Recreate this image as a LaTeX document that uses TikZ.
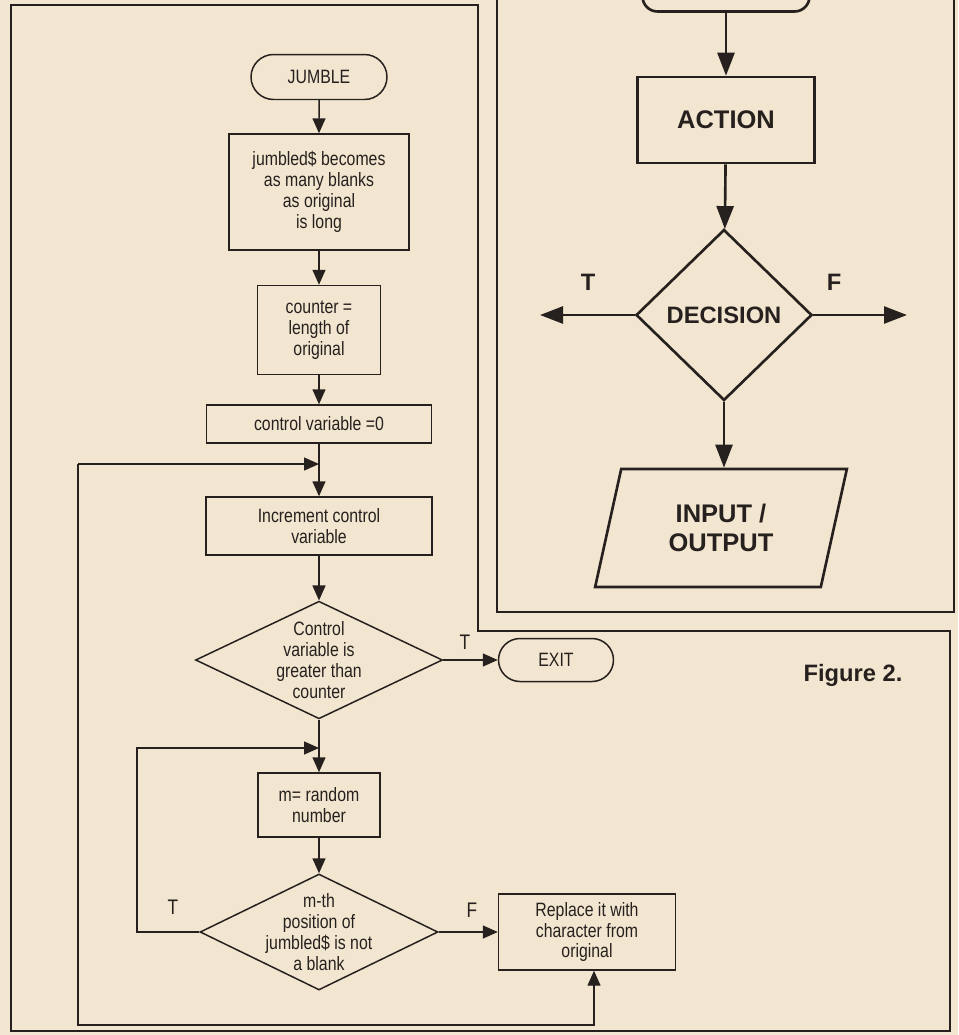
\documentclass[tikz,border=0pt]{standalone}
\usepackage{fontspec}
\setmainfont{Liberation Sans}
\newfontfamily\narrowfont{Liberation Sans}[FakeStretch=0.82]
\usetikzlibrary{shapes.geometric,shapes.misc,arrows.meta}
\definecolor{paper}{RGB}{242,230,208}
\definecolor{ink}{RGB}{38,32,30}
\begin{document}
\begin{tikzpicture}[
            x=0.02cm, y=-0.02cm,
            every node/.style = {text=ink, align=center, font=\narrowfont\fontsize{11}{11.9}\selectfont},
            proc/.style = {shape=rectangle, draw=ink, line width=0.85pt, inner sep=0pt},
            term/.style = {shape=rounded rectangle, draw=ink, line width=0.85pt, inner sep=0pt},
            dec/.style = {shape=diamond, draw=ink, line width=0.85pt, inner sep=0pt, aspect=2.1},
            bigproc/.style = {shape=rectangle, draw=ink, line width=1.5pt, font=\fontsize{14.5}{16}\selectfont\bfseries},
            bigdec/.style = {shape=diamond, draw=ink, line width=1.5pt, inner sep=0pt, font=\fontsize{13.5}{16}\selectfont\bfseries},
            io/.style = {shape=trapezium, trapezium left angle=74, trapezium right angle=106, trapezium stretches=true, draw=ink, line width=1.5pt, inner sep=0pt, font=\fontsize{14.5}{16.5}\selectfont\bfseries},
            lbl/.style = {font=\narrowfont\fontsize{12}{13}\selectfont},
            biglbl/.style = {font=\fontsize{13.5}{16}\selectfont\bfseries},
            arr/.style = {draw=ink, line width=0.85pt, -{Triangle[length=3mm,width=2.6mm]}},
            bigarr/.style = {draw=ink, line width=1.5pt, -{Triangle[length=4.6mm,width=3.4mm]}},
            frame/.style = {draw=ink, line width=0.9pt}
          ]
          \useasboundingbox (0,0) rectangle (958,1035);
          \clip (0,0) rectangle (958,1035);
          \fill[paper] (0,0) rectangle (958,1035);

          \draw[frame] (11,5) -- (478,5) -- (478,631) -- (950,631) -- (950,1031) -- (11,1031) -- cycle;
          \draw[frame] (497,-10) -- (497,612) -- (954,612) -- (954,-10);

          \node[term, minimum width=2.72cm, minimum height=0.9cm] (jumble) at (319,77) {JUMBLE};
          \node[proc, minimum width=3.6cm, minimum height=2.32cm] (blanks) at (319,192) {jumbled\$ becomes\\as many blanks\\as original\\is long};
          \node[proc, minimum width=2.46cm, minimum height=1.78cm] (counter) at (319,330) {counter =\\length of\\original};
          \node[proc, minimum width=4.5cm, minimum height=0.76cm] (cvzero) at (319,424) {control variable =0};
          \node[proc, minimum width=4.52cm, minimum height=1.16cm] (incr) at (319,526) {Increment control\\variable};
          \node[dec, minimum width=4.86cm, minimum height=2.3cm] (test1) at (319,660) {Control\\variable is\\greater than\\counter};
          \node[term, minimum width=2.3cm, minimum height=0.86cm] (exit) at (556,660) {EXIT};
          \node[proc, minimum width=2.44cm, minimum height=1.28cm] (random) at (319,805) {m= random\\number};
          \node[dec, inner xsep=-6pt, inner ysep=-2pt, minimum width=4.76cm, minimum height=2.32cm] (test2) at (319,932) {m-th\\position of\\jumbled\$ is not\\a blank};
          \node[proc, minimum width=3.54cm, minimum height=1.52cm] (replace) at (587,932) {Replace it with\\character from\\original};

          \coordinate (m1) at (319,464);
          \coordinate (m2) at (319,748);
          \coordinate (lp1) at (78,464);
          \coordinate (lp2) at (78,1025);
          \coordinate (lp3) at (594,1025);
          \coordinate (lp4) at (137,748);

          \draw[arr] (jumble) -- (blanks);
          \draw[arr] (blanks) -- (counter);
          \draw[arr] (counter) -- (cvzero);
          \draw[draw=ink, line width=0.85pt] (cvzero.south) -- (m1);
          \draw[arr] (m1) -- (incr.north);
          \draw[arr] (incr) -- (test1);
          \draw[arr] (test1.east) -- (exit.west);
          \draw[draw=ink, line width=0.85pt] (test1.south) -- (m2);
          \draw[arr] (m2) -- (random.north);
          \draw[arr] (random) -- (test2);
          \draw[arr] (test2.east) -- (replace.west);
          \draw[arr] (test2.west) -| (lp4) -- (m2);
          \draw[arr] (lp1) -- (m1);
          \draw[arr] (lp1) -- (lp2) -- (lp3) -- (lp3 |- replace.south);

          \node[lbl] (t1) at (465,642) {T};
          \node[lbl] (t2) at (173,907) {T};
          \node[lbl] (f2) at (472,910) {F};

          \node[draw=ink, line width=1.5pt, shape=rectangle, rounded corners=0.3cm, minimum width=3.34cm, minimum height=1.1cm] (start) at (726,-16) {};
          \node[bigproc, minimum width=3.54cm, minimum height=1.72cm] (action) at (726,120) {ACTION};
          \node[bigdec, minimum width=3.52cm, minimum height=3.42cm] (decision) at (724,315) {DECISION};
          \node[io, minimum width=5.04cm, minimum height=2.36cm] (inout) at (721,528) {INPUT /\\OUTPUT};
          \coordinate (tend) at (540,315);
          \coordinate (fend) at (907,315);

          \draw[bigarr] (start.south) -- (action.north);
          \draw[bigarr] (action) -- (decision);
          \draw[bigarr] (decision.west) -- (tend);
          \draw[bigarr] (decision.east) -- (fend);
          \draw[bigarr] (decision.south) -- (decision.south |- inout.north);

          \node[biglbl] (tlbl) at (588,282) {T};
          \node[biglbl] (flbl) at (834,282) {F};
          \node[biglbl] (fig) at (853,675) {Figure 2.};
        \end{tikzpicture}
\end{document}
